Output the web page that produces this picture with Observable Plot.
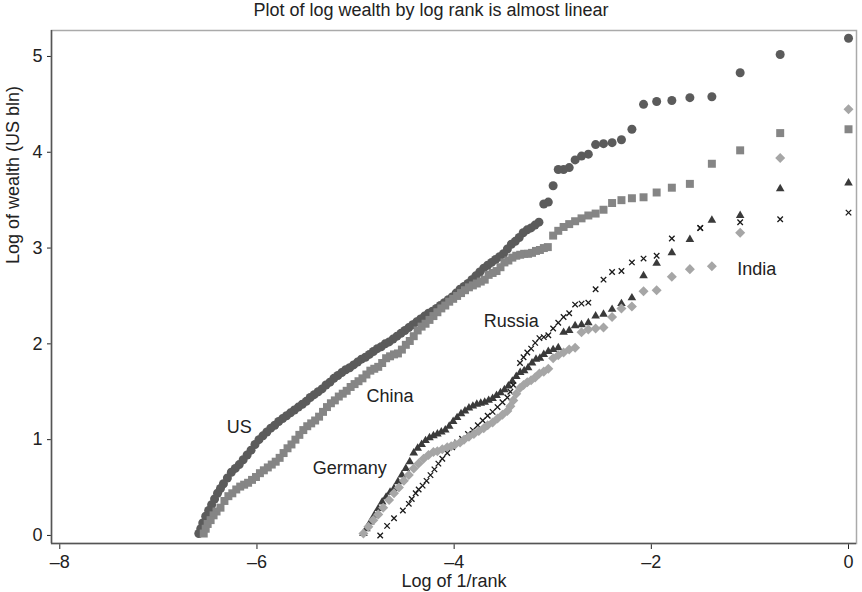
<!DOCTYPE html>
<html><head><meta charset="utf-8">
<script src="https://cdn.jsdelivr.net/npm/d3@7"></script>
<script src="https://cdn.jsdelivr.net/npm/@observablehq/plot@0.6"></script>
<style>
body{margin:0;background:#fff;}
#title{width:862px;height:26px;line-height:26px;text-align:center;font:18px "Liberation Sans",Arial,sans-serif;color:#222;}
</style></head><body>
<div id="title">Plot of log wealth by log rank is almost linear</div>
<div id="chart"></div>
<script>
const titleText = "Plot of log wealth by log rank is almost linear";
const xTitle = "Log of 1/rank";
const yTitle = "Log of wealth (US bln)";
const xTicks = [-8, -6, -4, -2, 0];
const yTicks = [0, 1, 2, 3, 4, 5];
const xDomain = [-8.084, 0.081];
const yDomain = [-0.084, 5.271];

// [log of 1/rank, log of wealth]
const us = [[0,5.19],[-0.693,5.02],[-1.099,4.83],[-1.386,4.58],[-1.609,4.57],[-1.792,4.54],[-1.946,4.53],[-2.079,4.50],[-2.197,4.24],[-2.303,4.13],[-2.398,4.10],[-2.485,4.09],[-2.565,4.08],[-2.639,3.98],[-2.708,3.96],[-2.773,3.92],[-2.833,3.84],[-2.890,3.82],[-2.944,3.82],[-2.996,3.65],[-3.045,3.48],[-3.091,3.46],
[-3.14,3.27],[-3.18,3.24],[-3.22,3.21],[-3.26,3.19],[-3.30,3.16],[-3.34,3.11],[-3.38,3.07],[-3.42,3.04],[-3.46,2.99],[-3.50,2.94],
[-3.54,2.91],[-3.58,2.88],[-3.62,2.85],[-3.66,2.82],[-3.70,2.79],[-3.74,2.75],[-3.78,2.71],[-3.82,2.67],[-3.86,2.63],[-3.90,2.60],
[-3.94,2.57],[-3.98,2.53],[-4.02,2.49],[-4.06,2.46],[-4.10,2.43],[-4.14,2.40],[-4.18,2.37],[-4.22,2.34],[-4.26,2.32],[-4.30,2.29],
[-4.34,2.26],[-4.38,2.23],[-4.42,2.20],[-4.46,2.17],[-4.50,2.14],[-4.54,2.11],[-4.58,2.08],[-4.62,2.05],[-4.66,2.02],[-4.70,2.00],
[-4.74,1.97],[-4.78,1.95],[-4.82,1.92],[-4.86,1.89],[-4.90,1.86],[-4.94,1.84],[-4.98,1.81],[-5.02,1.78],[-5.06,1.75],[-5.10,1.73],
[-5.14,1.70],[-5.18,1.67],[-5.22,1.64],[-5.26,1.60],[-5.30,1.57],[-5.34,1.53],[-5.38,1.50],[-5.42,1.47],[-5.46,1.44],[-5.50,1.40],
[-5.54,1.37],[-5.58,1.34],[-5.62,1.31],[-5.66,1.28],[-5.70,1.25],[-5.74,1.22],[-5.78,1.19],[-5.82,1.15],[-5.86,1.12],[-5.90,1.08],
[-5.94,1.04],[-5.98,1.00],[-6.02,0.95],[-6.06,0.89],[-6.10,0.84],[-6.14,0.79],[-6.18,0.74],[-6.22,0.70],[-6.26,0.66],[-6.30,0.60],
[-6.34,0.54],[-6.37,0.49],[-6.40,0.44],[-6.43,0.38],[-6.46,0.32],[-6.49,0.26],[-6.52,0.20],[-6.55,0.13],[-6.57,0.07],[-6.59,0.02]];

const china = [[0,4.24],[-0.693,4.20],[-1.099,4.02],[-1.386,3.88],[-1.609,3.67],[-1.792,3.63],[-1.946,3.58],[-2.079,3.53],[-2.197,3.52],[-2.303,3.50],[-2.398,3.47],[-2.485,3.40],[-2.565,3.36],[-2.639,3.34],[-2.708,3.31],[-2.773,3.28],[-2.833,3.25],[-2.890,3.22],[-2.944,3.18],[-2.996,3.13],
[-3.05,3.01],[-3.09,3.00],[-3.13,2.98],[-3.17,2.97],[-3.21,2.95],[-3.25,2.94],[-3.29,2.94],[-3.33,2.93],[-3.37,2.92],[-3.41,2.90],
[-3.45,2.87],[-3.49,2.85],[-3.53,2.80],[-3.57,2.76],[-3.61,2.74],[-3.65,2.72],[-3.69,2.67],[-3.73,2.65],[-3.77,2.63],[-3.81,2.61],
[-3.85,2.59],[-3.89,2.56],[-3.93,2.53],[-3.97,2.50],[-4.01,2.47],[-4.05,2.44],[-4.09,2.40],[-4.13,2.37],[-4.17,2.33],[-4.21,2.29],
[-4.25,2.25],[-4.29,2.21],[-4.33,2.18],[-4.37,2.14],[-4.41,2.08],[-4.45,2.03],[-4.49,1.99],[-4.53,1.94],[-4.57,1.90],[-4.61,1.89],
[-4.65,1.87],[-4.69,1.85],[-4.73,1.80],[-4.77,1.76],[-4.81,1.74],[-4.85,1.72],[-4.89,1.68],[-4.93,1.64],[-4.97,1.61],[-5.01,1.58],
[-5.05,1.55],[-5.09,1.51],[-5.13,1.48],[-5.17,1.45],[-5.21,1.41],[-5.25,1.38],[-5.29,1.34],[-5.33,1.29],[-5.37,1.24],[-5.41,1.20],
[-5.45,1.17],[-5.49,1.14],[-5.53,1.10],[-5.57,1.05],[-5.61,1.00],[-5.65,0.95],[-5.69,0.91],[-5.73,0.86],[-5.77,0.81],[-5.81,0.77],
[-5.85,0.74],[-5.89,0.71],[-5.93,0.68],[-5.97,0.65],[-6.01,0.61],[-6.05,0.58],[-6.09,0.55],[-6.13,0.53],[-6.17,0.51],[-6.21,0.48],
[-6.25,0.44],[-6.29,0.41],[-6.33,0.36],[-6.37,0.29],[-6.41,0.25],[-6.44,0.21],[-6.47,0.16],[-6.50,0.12],[-6.52,0.07],[-6.54,0.02]];

const germany = [[0,3.68],[-0.693,3.62],[-1.099,3.34],[-1.386,3.29],[-1.609,3.09],[-1.792,2.95],[-1.946,2.84],[-2.079,2.71],[-2.197,2.48],[-2.303,2.42],[-2.398,2.36],[-2.485,2.31],[-2.565,2.29],[-2.639,2.22],[-2.708,2.20],[-2.773,2.19],[-2.833,2.14],[-2.890,2.12],[-2.944,1.96],[-2.996,1.94],[-3.045,1.92],[-3.091,1.89],
[-3.13,1.85],[-3.17,1.84],[-3.21,1.80],[-3.25,1.75],[-3.29,1.72],[-3.33,1.70],[-3.37,1.66],[-3.41,1.61],[-3.45,1.56],[-3.49,1.52],
[-3.53,1.49],[-3.57,1.46],[-3.61,1.43],[-3.65,1.41],[-3.69,1.39],[-3.73,1.38],[-3.77,1.37],[-3.81,1.35],[-3.85,1.33],[-3.89,1.30],
[-3.93,1.27],[-3.97,1.23],[-4.01,1.19],[-4.05,1.14],[-4.09,1.10],[-4.13,1.08],[-4.17,1.06],[-4.21,1.04],[-4.25,1.02],[-4.29,0.99],
[-4.33,0.95],[-4.37,0.91],[-4.41,0.86],[-4.45,0.77],[-4.49,0.70],[-4.53,0.63],[-4.57,0.56],[-4.61,0.49],[-4.65,0.45],[-4.69,0.40],
[-4.73,0.35],[-4.77,0.28],[-4.81,0.21],[-4.85,0.14],[-4.89,0.07],[-4.92,0.02]];

const russia = [[0,3.37],[-0.693,3.30],[-1.099,3.27],[-1.504,3.21],[-1.504,3.21],[-1.792,3.10],[-1.946,2.92],[-2.079,2.89],[-2.197,2.85],[-2.303,2.76],[-2.398,2.75],[-2.485,2.67],[-2.565,2.57],[-2.639,2.43],[-2.708,2.42],[-2.773,2.41],[-2.833,2.32],[-2.890,2.28],[-2.944,2.22],[-2.996,2.16],[-3.045,2.09],[-3.091,2.07],[-3.135,2.06],[-3.178,2.01],[-3.219,1.95],[-3.258,1.91],[-3.296,1.86],[-3.332,1.80],
[-3.40,1.57],[-3.43,1.50],[-3.46,1.44],[-3.51,1.39],[-3.56,1.34],[-3.61,1.29],[-3.66,1.25],[-3.71,1.20],[-3.76,1.15],[-3.81,1.10],
[-3.86,1.06],[-3.92,1.01],[-3.97,0.97],[-4.02,0.92],[-4.07,0.86],[-4.12,0.80],[-4.16,0.75],[-4.20,0.69],[-4.24,0.63],[-4.28,0.57],
[-4.32,0.52],[-4.36,0.48],[-4.39,0.44],[-4.43,0.38],[-4.46,0.33],[-4.52,0.26],[-4.61,0.18],[-4.68,0.10],[-4.75,0.00]];

const india = [[0,4.45],[-0.693,3.94],[-1.099,3.16],[-1.386,2.81],[-1.609,2.78],[-1.792,2.70],[-1.946,2.56],[-2.079,2.55],[-2.197,2.39],[-2.303,2.37],[-2.398,2.28],[-2.485,2.17],[-2.565,2.16],[-2.639,2.15],[-2.708,2.12],[-2.773,1.96],[-2.833,1.94],[-2.890,1.91],[-2.944,1.88],[-2.996,1.85],[-3.045,1.74],[-3.091,1.71],[-3.135,1.69],[-3.178,1.65],[-3.219,1.62],[-3.258,1.60],[-3.296,1.57],[-3.332,1.54],
[-3.37,1.48],[-3.40,1.41],[-3.43,1.35],[-3.46,1.30],[-3.51,1.26],[-3.56,1.22],[-3.61,1.18],[-3.66,1.15],[-3.70,1.12],[-3.75,1.09],
[-3.80,1.06],[-3.85,1.03],[-3.90,1.00],[-3.94,0.97],[-3.99,0.95],[-4.03,0.93],[-4.07,0.92],[-4.12,0.90],[-4.17,0.88],[-4.21,0.87],
[-4.26,0.84],[-4.31,0.80],[-4.36,0.75],[-4.41,0.70],[-4.46,0.63],[-4.51,0.57],[-4.56,0.50],[-4.61,0.44],[-4.66,0.37],[-4.72,0.29],
[-4.77,0.22],[-4.82,0.16],[-4.87,0.09],[-4.92,0.02]];

const labelNames = ["US", "China", "Germany", "Russia", "India"];
const labelX = [-6.18, -4.65, -5.06, -3.42, -0.93];
const labelY = [1.13, 1.45, 0.70, 2.24, 2.78];

const toRows = (arr) => arr.map(([x, y]) => ({x, y}));
const labels = labelNames.map((name, i) => ({name, x: labelX[i], y: labelY[i]}));

const diamond = {
  draw(context, size) {
    const r = Math.sqrt(size / 2);
    context.moveTo(0, -r); context.lineTo(r, 0); context.lineTo(0, r); context.lineTo(-r, 0); context.closePath();
  }
};

const font = '"Liberation Sans", Arial, sans-serif';
const chart = Plot.plot({
  width: 862,
  height: 566,
  marginTop: 4,
  marginBottom: 49,
  marginLeft: 51,
  marginRight: 6,
  style: {fontFamily: font, fontSize: "18px", color: "#222", background: "#fff", overflow: "visible"},
  x: {domain: xDomain, ticks: xTicks, tickSize: 6, tickPadding: 6, label: null,
      tickFormat: d => d < 0 ? "\u2013" + Math.abs(d) : String(d)},
  y: {domain: yDomain, ticks: yTicks, tickSize: 4, tickPadding: 5, label: null,
      tickFormat: d => String(d)},
  marks: [
    Plot.frame({stroke: "#aaa", strokeWidth: 1.5}),
    Plot.ruleX([xDomain[0]], {stroke: "#555", strokeWidth: 1.5}),
    Plot.ruleY([yDomain[0]], {stroke: "#555", strokeWidth: 1.5}),
    Plot.dot(toRows(us), {x: "x", y: "y", r: 4.5, symbol: "circle", fill: "#5b5b5b"}),
    Plot.dot(toRows(china), {x: "x", y: "y", r: 4.5, symbol: "square", fill: "#858585"}),
    Plot.dot(toRows(germany), {x: "x", y: "y", r: 3.2, symbol: "triangle", fill: "#3a3a3a"}),
    Plot.dot(toRows(russia), {x: "x", y: "y", r: 2.6, symbol: "times", stroke: "#1a1a1a", strokeWidth: 1.3}),
    Plot.dot(toRows(india), {x: "x", y: "y", r: 4, symbol: diamond, fill: "#a6a6a6"}),
    Plot.text(labels, {x: "x", y: "y", text: "name", fontSize: 18, fill: "#222"}),
    Plot.text([xTitle], {frameAnchor: "bottom", dy: 43, fontSize: 18, fill: "#222"}),
    Plot.text([yTitle], {frameAnchor: "left", dx: -38, dy: -23, rotate: -90, fontSize: 18, fill: "#222"})
  ]
});
document.getElementById("chart").appendChild(chart);
</script></body></html>
